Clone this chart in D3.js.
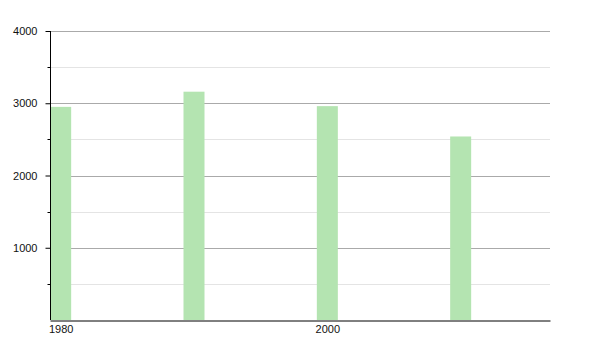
<!DOCTYPE html>
<html>
<head>
<meta charset="utf-8">
<script src="https://cdn.jsdelivr.net/npm/d3@7"></script>
<style>
  body { margin: 0; background: #fff; }
  text { font-family: "Liberation Sans", Arial, sans-serif; }
</style>
</head>
<body>
<div id="chart"></div>
<script>
// Data
const years = [1980, 1990, 2000, 2010];
const values = [2950, 3160, 2960, 2540];
const yMajorTicks = [1000, 2000, 3000, 4000];
const yMinorTicks = [500, 1500, 2500, 3500];
const xTickLabels = [1980, 2000];

const width = 600;
const height = 350;
const margin = { top: 31, right: 50, bottom: 30, left: 50 };

const svg = d3.select("#chart")
  .append("svg")
  .attr("width", width)
  .attr("height", height);

const x = d3.scaleLinear()
  .domain([1979.2, 2016.7])
  .range([margin.left, width - margin.right]);

const y = d3.scaleLinear()
  .domain([0, 4000])
  .range([height - margin.bottom, margin.top]);

// minor gridlines
svg.append("g")
  .selectAll("line")
  .data(yMinorTicks)
  .enter()
  .append("line")
  .attr("x1", margin.left)
  .attr("x2", width - margin.right)
  .attr("y1", d => Math.round(y(d)) + 0.5)
  .attr("y2", d => Math.round(y(d)) + 0.5)
  .attr("stroke", "#e4e4e4");

// major gridlines
svg.append("g")
  .selectAll("line")
  .data(yMajorTicks)
  .enter()
  .append("line")
  .attr("x1", margin.left)
  .attr("x2", width - margin.right)
  .attr("y1", d => Math.round(y(d)) + 0.5)
  .attr("y2", d => Math.round(y(d)) + 0.5)
  .attr("stroke", "#aaaaaa");

// bars
const barWidth = 21;
svg.append("g")
  .selectAll("rect")
  .data(years)
  .enter()
  .append("rect")
  .attr("x", d => x(d) - barWidth / 2)
  .attr("y", (d, i) => y(values[i]))
  .attr("width", barWidth)
  .attr("height", (d, i) => y(0) - y(values[i]))
  .attr("fill", "#b4e4b1");

// y axis
const yAxis = d3.axisLeft(y)
  .tickValues(yMajorTicks)
  .tickSize(5)
  .tickPadding(8)
  .tickFormat(d3.format("d"));

const yg = svg.append("g")
  .attr("transform", `translate(${margin.left + 0.5},0)`)
  .call(yAxis);
yg.select(".domain").attr("d", `M0,${y(4000)}V${y(0)}`).attr("stroke", "#000");
yg.selectAll(".tick line").attr("stroke", "#000");
yg.selectAll("text").attr("font-size", 11).attr("fill", "#111");

// minor y ticks
yg.selectAll(".minor")
  .data(yMinorTicks)
  .enter()
  .append("line")
  .attr("class", "minor")
  .attr("x1", -3)
  .attr("x2", 0)
  .attr("y1", d => Math.round(y(d)) + 0.5)
  .attr("y2", d => Math.round(y(d)) + 0.5)
  .attr("stroke", "#000");

// x axis
const xAxis = d3.axisBottom(x)
  .tickValues(xTickLabels)
  .tickSize(0)
  .tickPadding(5)
  .tickFormat(d3.format("d"));

const xg = svg.append("g")
  .attr("transform", `translate(0,${Math.round(y(0)) + 0.5})`)
  .call(xAxis);
xg.select(".domain").attr("stroke", "#000");
xg.selectAll("text").attr("font-size", 11).attr("fill", "#111");
</script>
</body>
</html>
